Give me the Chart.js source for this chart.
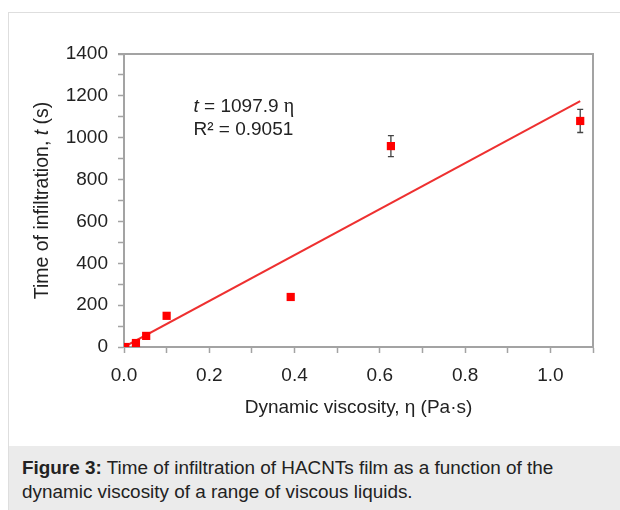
<!DOCTYPE html>
<html>
<head>
<meta charset="utf-8">
<script src="https://cdn.jsdelivr.net/npm/chart.js@4"></script>
<style>
  html, body { margin: 0; padding: 0; background: #fff; }
  body { width: 620px; height: 510px; position: relative; overflow: hidden; font-family: "Liberation Sans", Arial, sans-serif; }
  #box { position: absolute; left: 8px; top: 12px; width: 640px; height: 520px; border: 1px solid #dedede; box-sizing: border-box; }
  #caption { position: absolute; left: 9px; top: 446px; width: 640px; height: 70px; background: #ebebeb; }
  #caption p { margin: 0; position: absolute; left: 13px; top: 10px; font-size: 18.9px; line-height: 24px; color: #222; }
  #wrap { position: absolute; left: 0; top: 0; width: 620px; height: 440px; }
</style>
</head>
<body>
<div id="box"></div>
<div id="wrap"><canvas id="infiltrationChart"></canvas></div>
<div id="caption"><p><b>Figure 3:</b> Time of infiltration of HACNTs film as a function of the<br>dynamic viscosity of a range of viscous liquids.</p></div>
<script>
// measured points (viscosity in Pa·s, time in s)
const viscosity = [0.003, 0.028, 0.052, 0.100, 0.391, 0.626, 1.070];
const infiltrationTime = [0, 19, 53, 149, 239, 960, 1080];
const timeError = [0, 0, 0, 0, 0, 50, 55];

// linear fit t = 1097.9 η, drawn between these ends
const fitX = [0, 1.07];
const fitY = [0, 1175];

const fitLabel = ['t', ' = 1097.9 ', 'η'];
const r2Label = 'R² = 0.9051';

const axisGray = '#a3a3a3';
const textColor = '#222';
const family = '"Liberation Sans", Arial, sans-serif';

// error bars go under the squares
const errorBars = {
    id: 'errorBars',
    beforeDatasetsDraw(chart) {
        const { ctx, scales: { x, y } } = chart;
        ctx.save();
        ctx.strokeStyle = '#444';
        ctx.lineWidth = 1.3;
        viscosity.forEach((v, i) => {
            if (!timeError[i]) return;
            const px = x.getPixelForValue(v);
            const top = y.getPixelForValue(infiltrationTime[i] + timeError[i]);
            const bot = y.getPixelForValue(infiltrationTime[i] - timeError[i]);
            ctx.beginPath();
            ctx.moveTo(px, top); ctx.lineTo(px, bot);
            ctx.moveTo(px - 3, top); ctx.lineTo(px + 3, top);
            ctx.moveTo(px - 3, bot); ctx.lineTo(px + 3, bot);
            ctx.stroke();
        });
        ctx.restore();
    }
};

// top and right edges of the plot frame
const frame = {
    id: 'frame',
    beforeDatasetsDraw(chart) {
        const { ctx, chartArea: a } = chart;
        ctx.save();
        ctx.strokeStyle = axisGray;
        ctx.lineWidth = 2;
        ctx.beginPath();
        ctx.moveTo(a.left - 6, a.top);
        ctx.lineTo(a.right, a.top);
        ctx.lineTo(a.right, a.bottom + 1);
        ctx.stroke();
        ctx.restore();
    }
};

// y title with italic t, plus the fit equation
const labels = {
    id: 'labels',
    afterDraw(chart) {
        const { ctx, chartArea: a, scales: { x, y } } = chart;
        const sans = '19px ' + family;
        const sansIt = 'italic 19px ' + family;
        const serif = '20px "Liberation Serif", "DejaVu Serif", serif';
        ctx.save();
        ctx.fillStyle = textColor;
        ctx.textBaseline = 'middle';
        ctx.textAlign = 'left';

        // y axis title, rotated
        const titleFont = '19.5px ' + family;
        const titleIt = 'italic 19.5px ' + family;
        const parts = [['Time of infiltration, ', titleFont], ['t', titleIt], [' (s)', titleFont]];
        let total = 0;
        parts.forEach(p => { ctx.font = p[1]; total += ctx.measureText(p[0]).width; });
        ctx.translate(43, (a.top + a.bottom) / 2);
        ctx.rotate(-Math.PI / 2);
        let cx = -total / 2;
        parts.forEach(p => {
            ctx.font = p[1];
            ctx.fillText(p[0], cx, 0);
            cx += ctx.measureText(p[0]).width;
        });
        ctx.setTransform(1, 0, 0, 1, 0, 0);

        // equation
        let ex = x.getPixelForValue(0.163);
        const ey1 = y.getPixelForValue(1150);
        const ey2 = y.getPixelForValue(1040);
        const eqFonts = [sansIt, sans, serif];
        fitLabel.forEach((s, i) => {
            ctx.font = eqFonts[i];
            ctx.fillText(s, ex, ey1);
            ex += ctx.measureText(s).width;
        });
        ctx.font = sans;
        ctx.fillText(r2Label, x.getPixelForValue(0.163), ey2);
        ctx.restore();
    }
};

const ctx = document.getElementById('infiltrationChart').getContext('2d');
new Chart(ctx, {
    type: 'scatter',
    data: {
        datasets: [
            {
                label: 'Measured',
                data: viscosity.map((v, i) => ({ x: v, y: infiltrationTime[i] })),
                pointStyle: 'rect',
                pointRadius: 5.8,
                pointHoverRadius: 5.8,
                backgroundColor: '#ff0000',
                borderColor: '#ff0000',
                borderWidth: 0
            },
            {
                label: 'Fit',
                type: 'line',
                data: fitX.map((v, i) => ({ x: v, y: fitY[i] })),
                borderColor: '#ee3030',
                borderWidth: 2,
                pointRadius: 0,
                fill: false
            }
        ]
    },
    options: {
        responsive: true,
        maintainAspectRatio: false,
        animation: false,
        layout: { padding: { left: 20, top: 54, right: 27, bottom: 13 } },
        plugins: {
            legend: { display: false },
            tooltip: { enabled: false }
        },
        scales: {
            x: {
                type: 'linear',
                min: 0,
                max: 1.1,
                afterFit(scale) { scale.height = 80; },
                border: { color: axisGray, width: 2 },
                grid: { drawOnChartArea: false, color: axisGray, tickLength: 6, tickWidth: 1.5 },
                ticks: {
                    stepSize: 0.1,
                    autoSkip: false,
                    maxRotation: 0,
                    padding: 11,
                    color: textColor,
                    font: { family: family, size: 19 },
                    callback: (value, index) => index % 2 === 0 ? value.toFixed(1) : ''
                },
                title: {
                    display: true,
                    text: 'Dynamic viscosity, η (Pa·s)',
                    color: textColor,
                    font: { family: family, size: 19 },
                    padding: { top: 4, bottom: 8 }
                }
            },
            y: {
                min: 0,
                max: 1400,
                afterFit(scale) { scale.width = 104; },
                border: { color: axisGray, width: 2 },
                grid: { drawOnChartArea: false, color: axisGray, tickLength: 6, tickWidth: 1.5 },
                ticks: {
                    stepSize: 100,
                    autoSkip: false,
                    padding: 10,
                    color: textColor,
                    font: { family: family, size: 19 },
                    callback: value => value % 200 === 0 ? value : ''
                }
            }
        }
    },
    plugins: [errorBars, frame, labels]
});
</script>
</body>
</html>
